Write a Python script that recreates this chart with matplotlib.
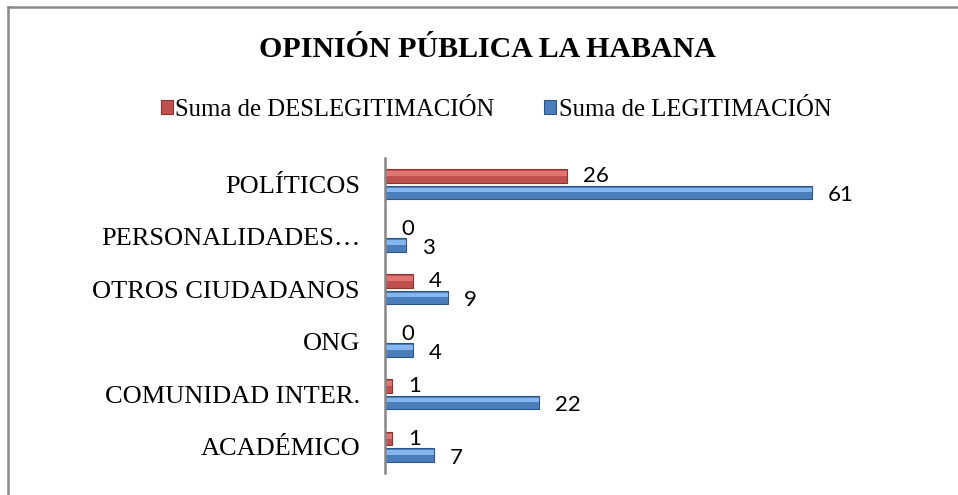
import matplotlib
matplotlib.use("Agg")
import matplotlib.pyplot as plt
from matplotlib.lines import Line2D
import numpy as np

# datos (de abajo hacia arriba)
categorias = ["ACADÉMICO", "COMUNIDAD INTER.", "ONG", "OTROS CIUDADANOS",
              "PERSONALIDADES…", "POLÍTICOS"]
deslegitimacion = [1, 1, 0, 4, 0, 26]
legitimacion = [7, 22, 4, 9, 3, 61]

rojo, rojo_claro, rojo_borde = "#C0504D", "#E27572", "#8E3330"
azul, azul_claro, azul_borde = "#4A7EBB", "#85B7EE", "#2D5687"

fig = plt.figure(figsize=(9.58, 4.95), dpi=100)
ax = fig.add_axes([385 / 958, 1 - 473 / 495, 490 / 958, 315 / 495])

y = np.arange(len(categorias))
h = 0.255
off = 0.155

b_r = ax.barh(y + off, deslegitimacion, height=h, color=rojo,
              edgecolor=rojo_borde, linewidth=0.8, label="Suma de DESLEGITIMACIÓN")
b_a = ax.barh(y - off, legitimacion, height=h, color=azul,
              edgecolor=azul_borde, linewidth=0.8, label="Suma de LEGITIMACIÓN")
# brillo superior para imitar el relieve
ax.barh(y + off + h * 0.18, deslegitimacion, height=h * 0.35, color=rojo_claro, linewidth=0)
ax.barh(y - off + h * 0.18, legitimacion, height=h * 0.35, color=azul_claro, linewidth=0)

for yy, v in zip(y + off, deslegitimacion):
    ax.annotate(str(v), (v, yy), xytext=(11.5, 0), textcoords="offset points",
                va="center", ha="left", fontsize=16, family="Lato")
for yy, v in zip(y - off, legitimacion):
    ax.annotate(str(v), (v, yy), xytext=(11.5, -2), textcoords="offset points",
                va="center", ha="left", fontsize=16, family="Lato")

ax.set_xlim(0, 70)
ax.set_ylim(-0.5, len(categorias) - 0.5)
ax.set_yticks(y)
ax.set_yticklabels(categorias, family="Liberation Serif", fontsize=19)
ax.tick_params(axis="y", length=0, pad=18)
ax.set_xticks([])
for s in ["top", "right", "bottom"]:
    ax.spines[s].set_visible(False)
ax.spines["left"].set_color("#868686")
ax.spines["left"].set_linewidth(1.8)
ax.set_facecolor("none")

fig.text(487 / 958, 1 - 57 / 495, "OPINIÓN PÚBLICA LA HABANA", ha="center",
         va="baseline", fontsize=21.5, fontweight="bold", family="Liberation Serif")

leg = fig.legend(handles=[b_r, b_a], loc="center", bbox_to_anchor=(496 / 958, 1 - 110 / 495),
                 ncol=2, frameon=False, handlelength=0.5, handleheight=0.5,
                 handletextpad=0.1, columnspacing=2.0,
                 prop={"family": "Liberation Serif", "size": 17.8})

# marco del gráfico
fig.add_artist(Line2D([8 / 958, 8 / 958], [0, 1 - 7 / 495], color="#8A8A8A", lw=1.8))
fig.add_artist(Line2D([8 / 958, 1], [1 - 7 / 495, 1 - 7 / 495], color="#8A8A8A", lw=1.8))

fig.savefig("out.png", dpi=100)
